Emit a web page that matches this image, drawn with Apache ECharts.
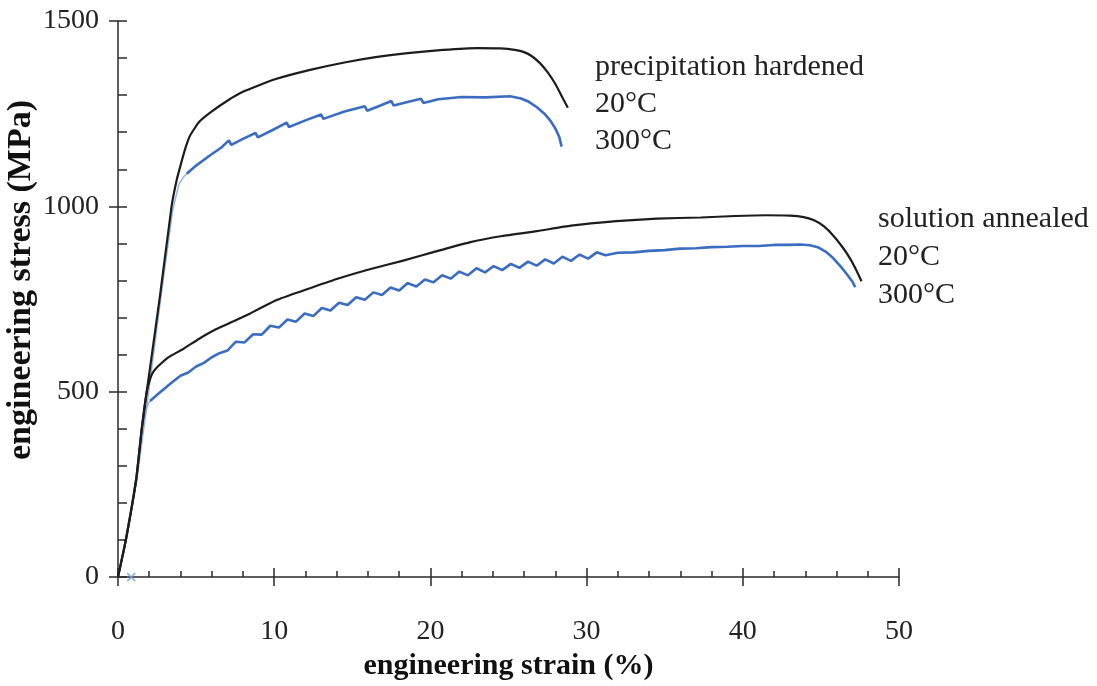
<!DOCTYPE html>
<html><head><meta charset="utf-8">
<script src="https://cdn.jsdelivr.net/npm/echarts@6/dist/echarts.min.js"></script>
<style>html,body{margin:0;padding:0;background:#fff;overflow:hidden}#c{width:1097px;height:686px}</style>
</head><body><div id="c"></div>
<script>
// ---- tick / axis settings ----
const xRange = [0, 50];
const xMajor = 10;
const yRange = [0, 1500];
const yMajor = 500;
const xTitle = 'engineering strain (%)';
const yTitle = 'engineering stress (MPa)';

// ---- annotation labels ----
const phLabels = ['precipitation hardened', '20°C', '300°C'];
const saLabels = ['solution annealed', '20°C', '300°C'];

// ---- data: [strain %, stress MPa] ----
const ph20 = [[0,0],[0.5,100],[1.17,266],[1.52,400],[1.84,500],[2.69,759],[3.43,1000],[3.75,1070],[4.0,1110],[4.3,1155],[4.6,1190],[5.2,1228],[5.9,1253],[7.0,1285],[8.0,1309],[10.0,1342],[12.3,1368],[14.5,1388],[16.6,1403],[18.7,1414],[20.8,1422],[23.0,1427],[24.5,1426],[25.4,1422],[26.0,1416],[26.5,1405],[27.0,1387],[27.5,1362],[28.0,1330],[28.4,1298],[28.8,1266]];

const ph300Elastic = [[0,0],[0.5,95],[1.2,260],[1.9,480],[2.7,740],[3.5,990],[3.9,1060],[4.2,1080],[4.4,1088]];
const ph300 = [[4.4,1088],[5.0,1110],[5.9,1138],[6.6,1158],[7.1,1178],[7.25,1166],[8.0,1182],[8.8,1198],[8.95,1186],[9.9,1206],[10.8,1226],[10.95,1214],[12.0,1232],[13.0,1248],[13.15,1236],[14.5,1256],[15.8,1270],[15.95,1258],[16.8,1272],[17.5,1284],[17.65,1272],[18.6,1282],[19.4,1290],[19.55,1279],[20.5,1289],[22.0,1295],[23.5,1294],[25.1,1297],[25.8,1291],[26.3,1282],[26.8,1268],[27.3,1250],[27.7,1230],[28.0,1210],[28.25,1187],[28.4,1161]];

const sa20 = [[0,0],[0.5,100],[1.17,266],[1.52,400],[1.84,500],[2.1,540],[2.3,556],[2.6,570],[3.2,592],[4.2,616],[5.2,643],[6.3,669],[7.4,690],[8.5,712],[9.7,738],[10.2,748],[12.0,775],[14.0,804],[16.0,829],[18.2,853],[20.3,878],[22.5,903],[24.6,920],[26.8,933],[29.0,948],[31.9,960],[34.5,967],[37.3,970],[39.5,974],[41.5,976],[43.0,975],[43.9,971],[44.6,962],[45.2,946],[45.8,921],[46.4,889],[46.9,857],[47.3,825],[47.6,798]];

const sa300Elastic = [[0,0],[0.5,95],[1.2,262],[1.55,400],[1.85,460],[2.05,475]];
const sa300 = [[2.05,475],[2.6,495],[3.1,513],[3.5,527],[4.0,543],[4.5,552],[5.0,568],[5.5,578],[6.0,593],[6.5,604],[7.0,611],[7.55,635],[8.1,633],[8.65,655],[9.2,654],[9.75,678],[10.3,673],[10.85,695],[11.4,689],[11.95,711],[12.5,704],[13.05,726],[13.6,719],[14.15,740],[14.7,734],[15.25,755],[15.8,748],[16.35,768],[16.9,761],[17.45,781],[18.0,773],[18.55,793],[19.1,784],[19.65,803],[20.2,795],[20.75,814],[21.3,805],[21.85,824],[22.4,814],[22.95,833],[23.5,822],[24.05,839],[24.6,828],[25.15,845],[25.7,834],[26.25,851],[26.8,840],[27.35,857],[27.9,846],[28.45,864],[29.0,853],[29.55,870],[30.1,859],[30.65,876],[31.2,868],[32,875],[33,876],[34,880],[35,882],[36,886],[37,887],[38,890],[39,891],[40,893],[41,893],[42,896],[43,896],[43.7,897],[44.3,895],[44.8,890],[45.3,878],[45.8,860],[46.3,836],[46.7,815],[47.0,798],[47.2,782]];

const crossMark = [[0.85,0]];

const FONT = '"Liberation Serif", "Times New Roman", serif';
const AX = '#2a2a2a';
const BLACK = '#1c1c1c';
const BLUE = '#3b6cc0';
const LIGHTBLUE = 'rgba(120,160,215,0.8)';

const chart = echarts.init(document.getElementById('c'), null, {renderer:'canvas'});

const plain = v => String(v);
const baseX = {type:'value', min:xRange[0], max:xRange[1], interval:xMajor, position:'bottom', splitLine:{show:false}};
const baseY = {type:'value', min:yRange[0], max:yRange[1], interval:yMajor, position:'left', splitLine:{show:false}};

const option = {
  backgroundColor:'#fff',
  animation:false,
  grid:{left:118, right:198, top:21, bottom:91, containLabel:false},
  xAxis:[
    Object.assign({}, baseX, {
      axisLine:{show:true, lineStyle:{color:AX, width:1.5}},
      axisTick:{show:true, inside:true, length:9, lineStyle:{color:AX, width:1.5}},
      minorTick:{show:true, splitNumber:5, length:6, lineStyle:{color:AX, width:1.5}},
      axisLabel:{margin:41, fontSize:28, fontFamily:FONT, color:'#222', formatter:plain},
      name:xTitle, nameLocation:'middle', nameGap:69,
      nameTextStyle:{fontFamily:FONT, fontWeight:'bold', fontSize:30, color:'#111'}
    }),
    Object.assign({}, baseX, {
      axisLine:{show:false},
      axisTick:{show:true, inside:false, length:9, lineStyle:{color:AX, width:1.5}},
      axisLabel:{show:false}
    })
  ],
  yAxis:[
    Object.assign({}, baseY, {
      axisLine:{show:true, lineStyle:{color:AX, width:1.5}},
      axisTick:{show:true, inside:true, length:9, lineStyle:{color:AX, width:1.5}},
      minorTick:{show:true, splitNumber:5, length:9, lineStyle:{color:AX, width:1.5}},
      axisLabel:{margin:19, fontSize:28, fontFamily:FONT, color:'#222', formatter:plain}
    }),
    Object.assign({}, baseY, {
      axisLine:{show:false},
      axisTick:{show:true, inside:false, length:9, lineStyle:{color:AX, width:1.5}},
      axisLabel:{show:false}
    })
  ],
  series:[
    {type:'line', data:sa300Elastic, symbol:'none', lineStyle:{color:LIGHTBLUE, width:1.5}, z:2},
    {type:'line', data:sa300, symbol:'none', lineStyle:{color:BLUE, width:2.6}, z:3},
    {type:'line', data:ph300Elastic, symbol:'none', lineStyle:{color:LIGHTBLUE, width:1.5}, z:2},
    {type:'line', data:ph300, symbol:'none', lineStyle:{color:BLUE, width:2.6}, z:3},
    {type:'line', data:sa20, symbol:'none', smooth:0.15, lineStyle:{color:BLACK, width:2.2}, z:4},
    {type:'line', data:ph20, symbol:'none', smooth:0.15, lineStyle:{color:BLACK, width:2.2}, z:4},
    {type:'scatter', data:crossMark, symbol:'path://M0,0L10,10M10,0L0,10', symbolSize:8,
     itemStyle:{color:'none', borderColor:'#6f9fd0', borderWidth:1.5}, z:5}
  ],
  graphic:[
    {type:'text', x:595, y:67, style:{text:phLabels[0], font:'30px '+FONT, fill:'#222', verticalAlign:'middle'}},
    {type:'text', x:595, y:104, style:{text:phLabels[1], font:'30px '+FONT, fill:'#222', verticalAlign:'middle'}},
    {type:'text', x:595, y:141, style:{text:phLabels[2], font:'30px '+FONT, fill:'#222', verticalAlign:'middle'}},
    {type:'text', x:878, y:219, style:{text:saLabels[0], font:'30px '+FONT, fill:'#222', verticalAlign:'middle'}},
    {type:'text', x:878, y:257, style:{text:saLabels[1], font:'30px '+FONT, fill:'#222', verticalAlign:'middle'}},
    {type:'text', x:878, y:295, style:{text:saLabels[2], font:'30px '+FONT, fill:'#222', verticalAlign:'middle'}},
    {type:'text', x:21, y:280, rotation:Math.PI/2, style:{text:yTitle, font:'bold 34px '+FONT, fill:'#111', align:'center', verticalAlign:'middle'}}
  ]
};
chart.setOption(option);
</script>
</body></html>
